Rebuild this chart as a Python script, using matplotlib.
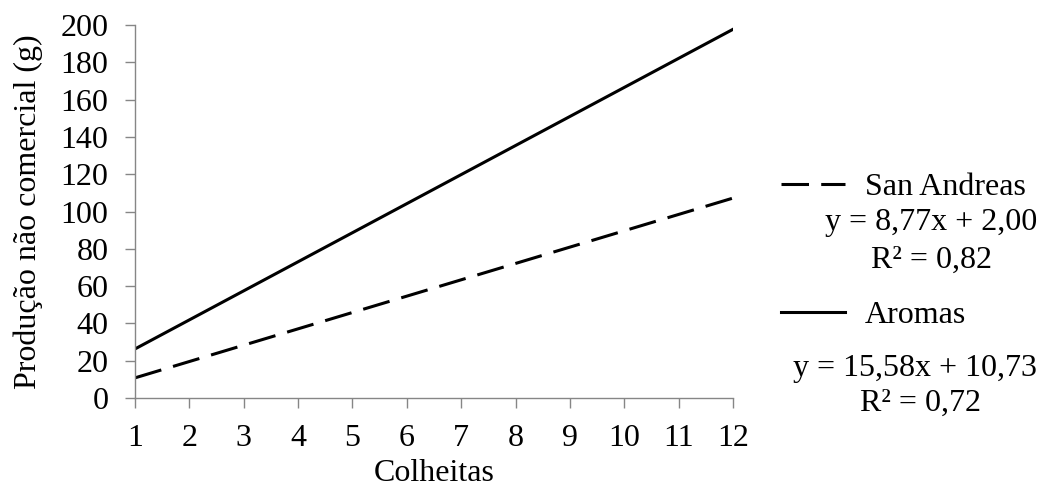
import matplotlib.pyplot as plt

# trend lines (end points at x=1 and x=12)
colheitas = [1, 12]
san_andreas = [10.8, 107.2]
aromas = [26.3, 197.7]
xticks = list(range(1, 13))
yticks = list(range(0, 201, 20))
eq_sa = ["y = 8,77x + 2,00", "R² = 0,82"]
eq_ar = ["y = 15,58x + 10,73", "R² = 0,72"]

plt.rcParams['font.family'] = ['Liberation Serif', 'DejaVu Serif']
fs = 23

fig = plt.figure(figsize=(10.43, 4.94), dpi=100)
ax = fig.add_axes([0.1294, 0.1943, 0.5734, 0.7551])

l1, = ax.plot(colheitas, san_andreas, color='black', lw=2.2, dashes=(9, 4),
              label='San Andreas')
l2, = ax.plot(colheitas, aromas, color='black', lw=2.2, label='Aromas')

ax.set_xlim(1, 12)
ax.set_ylim(0, 200)
ax.set_xticks(xticks)
ax.set_yticks(yticks)
for s in ['top', 'right']:
    ax.spines[s].set_visible(False)
for s in ['left', 'bottom']:
    ax.spines[s].set_color('#868686')
    ax.spines[s].set_linewidth(1)
ax.tick_params(direction='out', length=7, width=1, color='#868686',
               labelsize=fs)
ax.tick_params(axis='y', pad=12)
ax.tick_params(axis='x', pad=12)
ax.set_xlabel('Colheitas', fontsize=fs, labelpad=4)
ax.set_ylabel('Produção não comercial (g)', fontsize=fs, labelpad=13)

fig.legend(handles=[l1, l2], loc='upper left', bbox_to_anchor=(0.737, 0.677),
           frameon=False, fontsize=fs, handlelength=2.0, handletextpad=0.6,
           labelspacing=3.1, borderaxespad=0)

fig.text(0.893, 0.549, eq_sa[0], ha='center', va='center', fontsize=fs)
fig.text(0.893, 0.474, eq_sa[1], ha='center', va='center', fontsize=fs)
fig.text(0.877, 0.255, eq_ar[0], ha='center', va='center', fontsize=fs)
fig.text(0.883, 0.184, eq_ar[1], ha='center', va='center', fontsize=fs)

fig.savefig('out.png', dpi=100)
